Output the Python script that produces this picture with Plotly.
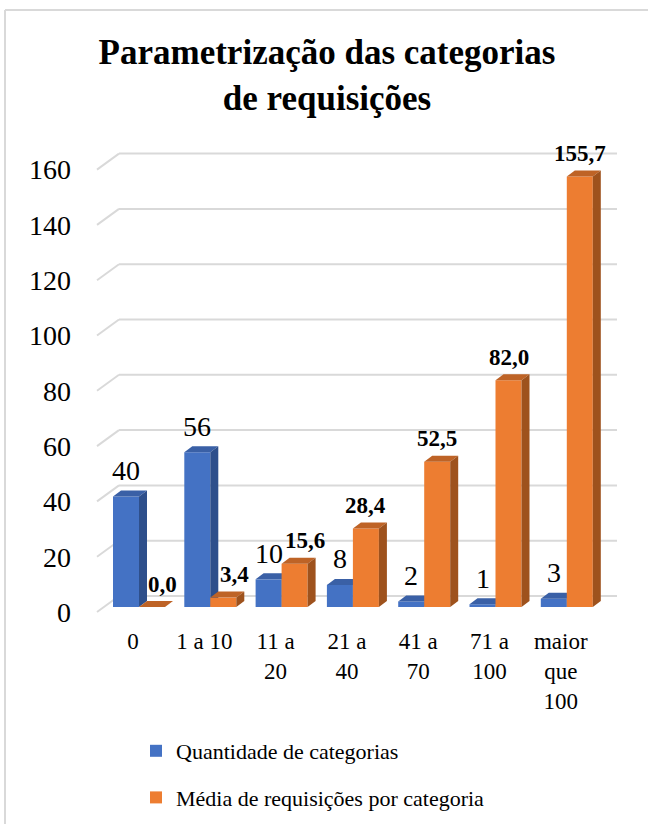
import plotly.graph_objects as go

# ---- data ----
categories = ["0", "1 a 10", "11 a<br>20", "21 a<br>40", "41 a<br>70", "71 a<br>100", "maior<br>que<br>100"]
qtd_categorias = [40, 56, 10, 8, 2, 1, 3]
media_requisicoes = [0.0, 3.4, 15.6, 28.4, 52.5, 82.0, 155.7]
y_ticks = [0, 20, 40, 60, 80, 100, 120, 140, 160]
series_names = ["Quantidade de categorias", "Média de requisições por categoria"]
chart_title = "Parametrização das categorias<br>de requisições"

# ---- styling ----
FONT = "Times New Roman, Liberation Serif, DejaVu Serif, serif"
BLUE = {"front": "#4472C4", "top": "#3A60A6", "side": "#2E4F8B"}
ORANGE = {"front": "#ED7D31", "top": "#BE6326", "side": "#9E521D"}
GRID = "#D9D9D9"

# ---- page / plot geometry (pixels) ----
W, H = 648, 824
PL, PR, PT, PB = 78, 640, 140, 615          # plot area edges
CAT0_PX, PX_PER_CAT = 139, 71.3             # centre of first category, spacing
ZERO_PX, PX_PER_UNIT = 607, 2.765           # baseline of bars, scale

x_range = [(PL - CAT0_PX) / PX_PER_CAT, (PR - CAT0_PX) / PX_PER_CAT]
y_range = [-(PB - ZERO_PX) / PX_PER_UNIT, (ZERO_PX - PT) / PX_PER_UNIT]

BAR_W = 26 / PX_PER_CAT                     # width of a bar's front face
DX = 8 / PX_PER_CAT                         # 3-D depth, horizontal
DY = 6 / PX_PER_UNIT                        # 3-D depth, vertical

# wall gridlines: short slanted floor segment + back line
FRONT_X, FRONT_DY = (97 - CAT0_PX) / PX_PER_CAT, -5 / PX_PER_UNIT
BACK_X0, BACK_X1, BACK_DY = (119 - CAT0_PX) / PX_PER_CAT, (617 - CAT0_PX) / PX_PER_CAT, 11 / PX_PER_UNIT


def paper_x(px):
    return (px - PL) / (PR - PL)


def paper_y(py):
    return (PB - py) / (PB - PT)


def depth_faces(lefts, values):
    """Top and side parallelograms of 3-D columns, separated by gaps."""
    tx, ty, sx, sy = [], [], [], []
    for xl, v in zip(lefts, values):
        xr = xl + BAR_W
        tx += [xl, xl + DX, xr + DX, xr, xl, None]
        ty += [v, v + DY, v + DY, v, v, None]
        sx += [xr, xr + DX, xr + DX, xr, xr, None]
        sy += [v, v + DY, DY, 0, v, None]
    return tx, ty, sx, sy


idx = list(range(len(categories)))
fig = go.Figure()

series = [
    (qtd_categorias, -BAR_W, BLUE, series_names[0], "x", "y"),
    (media_requisicoes, 0.0, ORANGE, series_names[1], "x2", "y2"),
]

for k, (vals, offset, col, name, xa, ya) in enumerate(series):
    fig.add_trace(go.Bar(
        x=idx, y=vals, width=BAR_W, offset=offset, name=name,
        marker=dict(color=col["front"], line=dict(width=0)),
        xaxis=xa, yaxis=ya, legendgroup=f"g{k}", hoverinfo="skip",
    ))
    lefts = [i + offset for i in idx]
    tx, ty, sx, sy = depth_faces(lefts, vals)
    for fx, fy, c in ((tx, ty, col["top"]), (sx, sy, col["side"])):
        fig.add_trace(go.Scatter(
            x=fx, y=fy, mode="lines", fill="toself", fillcolor=c,
            line=dict(width=0, color=c), showlegend=False, hoverinfo="skip",
            xaxis=xa, yaxis=ya,
        ))

# gridlines of the 3-D wall
shapes = []
for v in y_ticks:
    shapes.append(dict(type="line", xref="x", yref="y", layer="below",
                       x0=FRONT_X, y0=v + FRONT_DY, x1=BACK_X0, y1=v + BACK_DY,
                       line=dict(color=GRID, width=2)))
    shapes.append(dict(type="line", xref="x", yref="y", layer="below",
                       x0=BACK_X0, y0=v + BACK_DY, x1=BACK_X1, y1=v + BACK_DY,
                       line=dict(color=GRID, width=2)))

# chart frame (top and left edges fall inside the page)
frame = dict(color="#D9D9D9", width=2)
shapes.append(dict(type="line", xref="paper", yref="paper",
                   x0=paper_x(5), x1=paper_x(W), y0=paper_y(10), y1=paper_y(10), line=frame))
shapes.append(dict(type="line", xref="paper", yref="paper",
                   x0=paper_x(5), x1=paper_x(5), y0=paper_y(10), y1=paper_y(H), line=frame))

# value labels
orange_label_xshift = [10, 11, 10, 0, 0, 0, 0]
annotations = []
for i, v in zip(idx, qtd_categorias):
    annotations.append(dict(x=i - BAR_W / 2, y=v, xref="x", yref="y", text=f"{v}",
                            showarrow=False, yanchor="middle", yshift=26,
                            font=dict(family=FONT, size=28, color="#000000")))
for i, v, sh in zip(idx, media_requisicoes, orange_label_xshift):
    annotations.append(dict(x=i + BAR_W / 2, y=v, xref="x", yref="y",
                            text="<b>" + f"{v:.1f}".replace(".", ",") + "</b>",
                            showarrow=False, yanchor="middle", yshift=23, xshift=sh,
                            font=dict(family=FONT, size=23, color="#000000")))

axis_common = dict(showgrid=False, zeroline=False, showline=False, ticks="", automargin=False)
fig.update_layout(
    width=W, height=H, autosize=False,
    margin=dict(l=PL, r=W - PR, t=PT, b=H - PB, pad=0, autoexpand=False),
    paper_bgcolor="white", plot_bgcolor="white",
    barmode="overlay",
    font=dict(family=FONT, color="#000000"),
    title=dict(text="<b>" + chart_title + "</b>", x=327 / W, xanchor="center",
               y=1 - 64 / H, yanchor="middle",
               font=dict(family=FONT, size=35, color="#000000")),
    xaxis=dict(range=x_range, tickmode="array", tickvals=idx, ticktext=categories,
               tickfont=dict(family=FONT, size=23, color="#000000"),
               ticklabelshift=-6, ticklabelstandoff=10, **axis_common),
    yaxis=dict(range=y_range, tickmode="array",
               tickvals=[v + FRONT_DY for v in y_ticks], ticktext=[str(v) for v in y_ticks],
               tickfont=dict(family=FONT, size=28, color="#000000"),
               ticklabelstandoff=6, **axis_common),
    xaxis2=dict(range=x_range, overlaying="x", visible=False),
    yaxis2=dict(range=y_range, overlaying="y", visible=False),
    legend=dict(x=paper_x(136), xanchor="left", y=paper_y(730), yanchor="top",
                font=dict(family=FONT, size=22, color="#000000"),
                tracegroupgap=15, bgcolor="rgba(0,0,0,0)"),
    shapes=shapes,
    annotations=annotations,
    showlegend=True,
)

fig.write_html("out.html", config={"displayModeBar": False})
